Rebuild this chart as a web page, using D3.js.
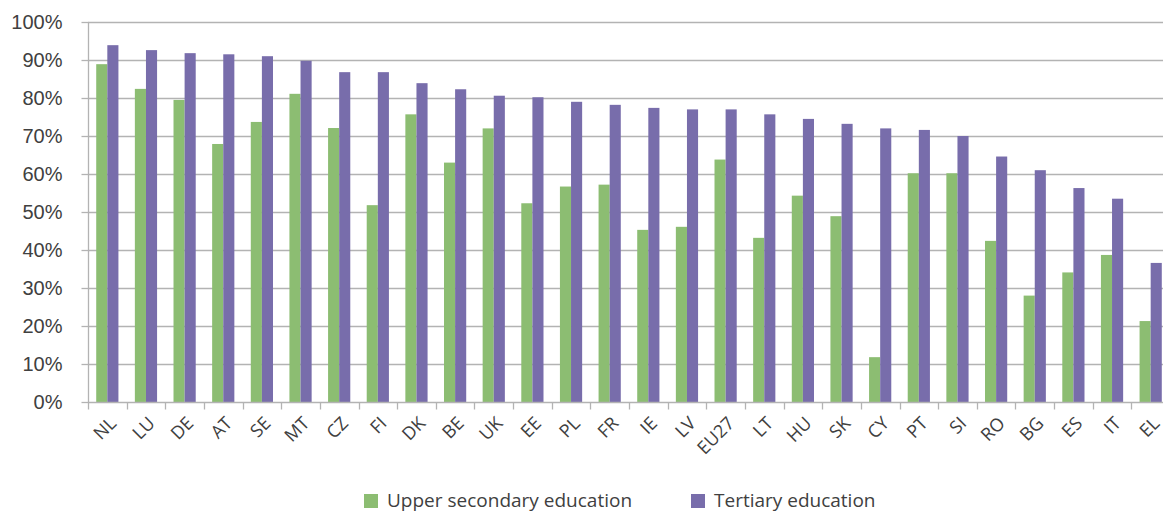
<!DOCTYPE html>
<html>
<head>
<meta charset="utf-8">
<script src="https://cdn.jsdelivr.net/npm/d3@7"></script>
<style>
    body { margin: 0; background: #fff; }
    svg { display: block; font-family: "Open Sans", "Noto Sans", sans-serif; }
    .tick text { fill: #404040; }
</style>
</head>
<body>
<div id="chart"></div>
<script>
// Share of population by education level (reading from the figure)
const countries = ["NL", "LU", "DE", "AT", "SE", "MT", "CZ", "FI", "DK", "BE", "UK", "EE", "PL", "FR",
    "IE", "LV", "EU27", "LT", "HU", "SK", "CY", "PT", "SI", "RO", "BG", "ES", "IT", "EL"];
const upperSecondary = [88.9, 82.4, 79.5, 67.9, 73.7, 81.1, 72.1, 51.8, 75.7, 63.0, 72.0, 52.3, 56.7, 57.2,
    45.3, 46.1, 63.8, 43.2, 54.3, 48.9, 11.8, 60.2, 60.2, 42.4, 28.0, 34.1, 38.7, 21.3];
const tertiary = [93.9, 92.6, 91.8, 91.5, 91.0, 89.8, 86.8, 86.8, 83.9, 82.3, 80.6, 80.2, 79.0, 78.2,
    77.4, 77.0, 77.0, 75.7, 74.5, 73.2, 72.0, 71.6, 70.0, 64.6, 61.0, 56.3, 53.5, 36.6];
const seriesNames = ["Upper secondary education", "Tertiary education"];
const seriesColors = ["#8cbd72", "#786dab"];
const yTicks = [0, 10, 20, 30, 40, 50, 60, 70, 80, 90, 100];

const width = 1163;
const height = 512;
const margin = { top: 22, left: 88, bottom: 110 };
const plotRight = 1170;   // the plot runs a little past the right edge of the picture

const svg = d3.select("#chart")
    .append("svg")
    .attr("width", width)
    .attr("height", height);

const x = d3.scaleBand()
    .domain(countries)
    .range([margin.left, plotRight]);

const xInner = d3.scaleBand()
    .domain(seriesNames)
    .range([0, x.bandwidth()])
    .paddingOuter(0.74);

const y = d3.scaleLinear()
    .domain([0, 100])
    .range([height - margin.bottom, margin.top]);

// Gridlines
svg.append("g")
    .selectAll("line")
    .data(yTicks.filter(d => d > 0))
    .join("line")
    .attr("x1", margin.left)
    .attr("x2", plotRight)
    .attr("y1", d => Math.round(y(d)) + 0.5)
    .attr("y2", d => Math.round(y(d)) + 0.5)
    .attr("stroke", "#b3b3b3")
    .attr("stroke-width", 1.3);

// Bars
const rows = countries.map((c, i) => ({ country: c, values: [upperSecondary[i], tertiary[i]] }));

svg.append("g")
    .selectAll("g")
    .data(rows)
    .join("g")
    .attr("transform", d => `translate(${x(d.country)},0)`)
    .selectAll("rect")
    .data(d => d.values.map((v, j) => ({ key: seriesNames[j], value: v, color: seriesColors[j] })))
    .join("rect")
    .attr("x", d => xInner(d.key))
    .attr("width", xInner.bandwidth())
    .attr("y", d => y(d.value))
    .attr("height", d => y(0) - y(d.value))
    .attr("fill", d => d.color);

// Y axis
const yAxis = svg.append("g")
    .attr("transform", `translate(${margin.left + 0.5},0)`)
    .call(d3.axisLeft(y).tickValues(yTicks).tickFormat(d => d + "%").tickSize(7).tickPadding(19));
yAxis.selectAll("line, path").attr("stroke", "#b3b3b3").attr("stroke-width", 1.3);
yAxis.select(".domain").attr("d", `M0,${y(0)}V${y(100)}`);
yAxis.selectAll("text").style("font-size", "20px");

// X axis with ticks between categories
const xAxisG = svg.append("g")
    .attr("transform", `translate(0,${Math.round(y(0)) + 0.5})`);
xAxisG.append("line")
    .attr("x1", margin.left)
    .attr("x2", plotRight)
    .attr("stroke", "#b3b3b3")
    .attr("stroke-width", 1.3);
xAxisG.selectAll(".xtick")
    .data(countries)
    .join("line")
    .attr("class", "xtick")
    .attr("x1", d => Math.round(x(d)) + 0.5)
    .attr("x2", d => Math.round(x(d)) + 0.5)
    .attr("y1", 0)
    .attr("y2", 7)
    .attr("stroke", "#b3b3b3")
    .attr("stroke-width", 1.3);
xAxisG.selectAll(".xlabel")
    .data(countries)
    .join("text")
    .attr("class", "xlabel")
    .attr("text-anchor", "end")
    .attr("fill", "#404040")
    .style("font-size", "18px")
    .attr("transform", d => `translate(${x(d) + x.bandwidth() / 2 + 10},${22}) rotate(-45)`)
    .text(d => d);

// Legend
const legendItems = [
    { name: seriesNames[0], color: seriesColors[0], x: 364 },
    { name: seriesNames[1], color: seriesColors[1], x: 691 }
];
const legend = svg.append("g").attr("class", "legend");
legend.selectAll("rect")
    .data(legendItems)
    .join("rect")
    .attr("x", d => d.x)
    .attr("y", 494)
    .attr("width", 14)
    .attr("height", 14)
    .attr("fill", d => d.color);
legend.selectAll("text")
    .data(legendItems)
    .join("text")
    .attr("x", d => d.x + 23)
    .attr("y", 507)
    .attr("fill", "#404040")
    .style("font-size", "19px")
    .text(d => d.name);
</script>
</body>
</html>
